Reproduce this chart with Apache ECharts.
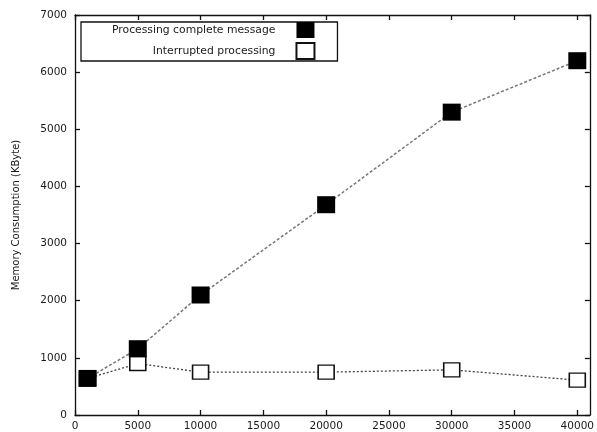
<!DOCTYPE html>
<html>
<head>
<meta charset="utf-8">
<script src="https://cdn.jsdelivr.net/npm/echarts@6/dist/echarts.min.js"></script>
<style>
  html, body { margin: 0; padding: 0; background: #fff; }
  #chart { width: 597px; height: 432px; }
</style>
</head>
<body>
<div id="chart"></div>
<script>
// message sizes on the x axis
var messageSizes = [1000, 5000, 10000, 20000, 30000, 40000]
// memory in KByte
var completeValues = [640, 1160, 2100, 3680, 5300, 6200]
var interruptedValues = [640, 900, 750, 750, 790, 610]
var labelComplete = 'Processing complete message'
var labelInterrupted = 'Interrupted processing'

function pairs (xs, ys) {
  return xs.map(function (x, i) { return [x, ys[i]] })
}

var textFont = 'DejaVu Sans, Verdana, sans-serif'
var textColor = '#1a1a1a'
var frameColor = '#111'

// plain numbers, no thousands separator
function plain (v) {
  return String(v)
}

// shared style for the four sides of the box
function sideAxis (extra) {
  var base = {
    type: 'value',
    axisLine: { show: true, onZero: false, lineStyle: { color: frameColor, width: 1.3 } },
    axisTick: { show: true, inside: true, length: 5, lineStyle: { color: frameColor, width: 1.3 } },
    splitLine: { show: false }
  }
  return Object.assign(base, extra)
}

var myChart = echarts.init(document.getElementById('chart'))
var option = {
  animation: false,
  backgroundColor: '#fff',
  grid: {
    left: 75,
    right: 4,
    top: 15,
    bottom: 17
  },
  legend: {
    orient: 'vertical',
    left: 81,
    top: 22,
    align: 'right',
    icon: 'rect',
    itemWidth: 18,
    itemHeight: 16,
    itemGap: 4,
    padding: [0, 22, 1, 31],
    borderColor: '#111',
    borderWidth: 1.3,
    textStyle: {
      padding: [0, 16, 0, 0],
      color: textColor,
      fontFamily: textFont,
      fontSize: 10.8
    },
    data: [labelComplete, labelInterrupted]
  },
  xAxis: [
    sideAxis({
      position: 'bottom',
      min: 0,
      max: 41000,
      interval: 5000,
      axisLabel: { color: textColor, fontFamily: textFont, fontSize: 10.5, margin: 6, showMaxLabel: false, formatter: plain }
    }),
    sideAxis({
      position: 'top',
      min: 0,
      max: 41000,
      interval: 5000,
      axisLabel: { show: false }
    })
  ],
  yAxis: [
    sideAxis({
      position: 'left',
      min: 0,
      max: 7000,
      interval: 1000,
      name: 'Memory Consumption (KByte)',
      nameLocation: 'middle',
      nameGap: 54,
      nameTextStyle: { color: textColor, fontFamily: textFont, fontSize: 10 },
      axisLabel: { color: textColor, fontFamily: textFont, fontSize: 10.5, margin: 8, formatter: plain }
    }),
    sideAxis({
      position: 'right',
      min: 0,
      max: 7000,
      interval: 1000,
      axisLabel: { show: false }
    })
  ],
  series: [
    {
      name: labelInterrupted,
      type: 'line',
      symbol: 'rect',
      symbolSize: [16, 14],
      itemStyle: { color: '#fff', borderColor: '#111', borderWidth: 1.5 },
      lineStyle: { color: '#444', width: 1.3, type: [2, 2] },
      z: 2,
      data: pairs(messageSizes, interruptedValues)
    },
    {
      name: labelComplete,
      type: 'line',
      symbol: 'rect',
      symbolSize: [18, 17],
      itemStyle: { color: '#000', borderColor: '#000', borderWidth: 0 },
      lineStyle: { color: '#777', width: 1.5, type: [3, 2] },
      z: 3,
      data: pairs(messageSizes, completeValues)
    }
  ]
}
myChart.setOption(option, true)
</script>
</body>
</html>
